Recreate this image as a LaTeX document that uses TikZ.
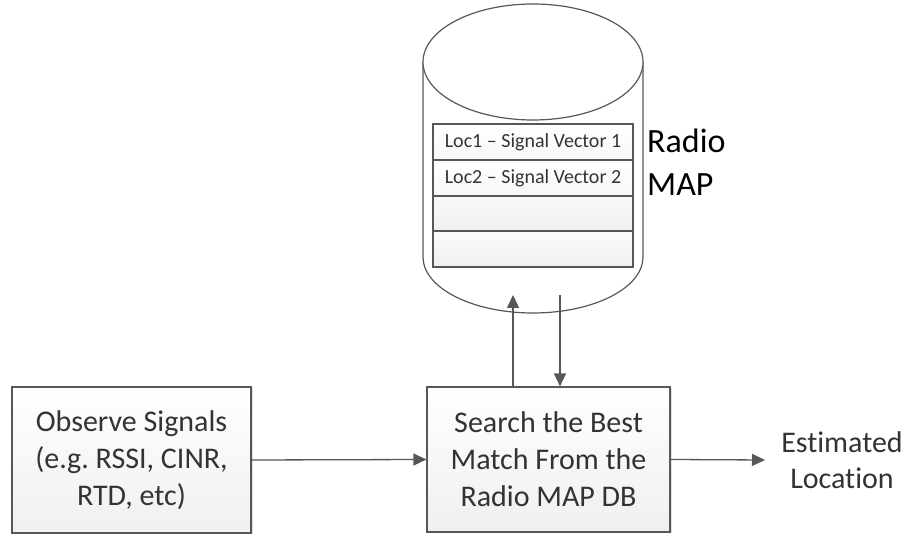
\documentclass[tikz,border=0pt]{standalone}
\usepackage{fontspec}
\setmainfont{Carlito}[Ligatures=NoCommon]
\frenchspacing
\usetikzlibrary{arrows.meta,shadows}
\definecolor{edge}{HTML}{575757}
\definecolor{ink}{HTML}{333333}
\tikzset{
  procbox/.style={draw=edge, line width=1.2pt, top color=white, bottom color=gray!12,
    drop shadow={opacity=0.25, shadow xshift=1.5pt, shadow yshift=-1.5pt},
    align=center, text=ink, inner sep=0pt,
    font=\fontsize{30}{37}\selectfont},
  rowbox/.style={draw=edge, line width=1.2pt, inner sep=0pt, text=ink,
    font=\fontsize{20}{24}\selectfont},
  flow/.style={draw=edge, line width=1.3pt, -{Triangle[length=13pt,width=12pt]}},
  bigtext/.style={align=center, inner sep=0pt, font=\fontsize{30}{36}\selectfont, text=ink},
}
\begin{document}
\begin{tikzpicture}[x=1pt,y=1pt]
\useasboundingbox (0,0) rectangle (905,535);

% database cylinder
\draw[edge, line width=1.2pt, fill=white]
  (423,473) -- (423,278) arc[start angle=180, end angle=360, x radius=110pt, y radius=56pt]
  -- (643,473);
\draw[edge, line width=1.2pt, fill=white] (533,473) ellipse[x radius=110pt, y radius=58pt];

% rows of the radio map
\path[rowbox, top color=white, bottom color=gray!6]  (433,411) rectangle (633,375);
\path[rowbox, top color=white, bottom color=gray!6]  (433,375) rectangle (633,339);
\path[rowbox, top color=gray!4, bottom color=gray!12] (433,339) rectangle (633,304);
\path[rowbox, top color=gray!4, bottom color=gray!12] (433,304) rectangle (633,268);
\draw[edge, line width=1.2pt] (433,411) rectangle (633,268)
  (433,375) -- (633,375) (433,339) -- (633,339) (433,304) -- (633,304);
\node[rowbox, draw=none] (row1) at (533,393) {Loc1 – Signal Vector 1};
\node[rowbox, draw=none] (row2) at (533,357) {Loc2 – Signal Vector 2};

\node[align=left, anchor=west, inner sep=0pt, font=\fontsize{34}{43}\selectfont] (map)
  at (647,373) {Radio\\MAP};

% processing boxes
\node[procbox, minimum width=239pt, minimum height=146pt] (obs) at (131.5,75)
  {Observe Signals\\(e.g. RSSI, CINR,\\RTD, etc)};
\node[procbox, minimum width=243pt, minimum height=145pt] (search) at (548.5,75.5)
  {Search the Best\\Match From the\\Radio MAP DB};

\coordinate (dbout) at (513,240);
\coordinate (dbin) at (560,240);
\coordinate (result) at (765,75);

\draw[flow] (obs.east) -- (search.west);
\draw[flow] (search.north -| dbout) -- (dbout);
\draw[flow] (dbin) -- (search.north -| dbin);
\draw[flow] (search.east) -- (result);

\node[bigtext] (est) at (842,75) {Estimated\\Location};
\end{tikzpicture}
\end{document}
